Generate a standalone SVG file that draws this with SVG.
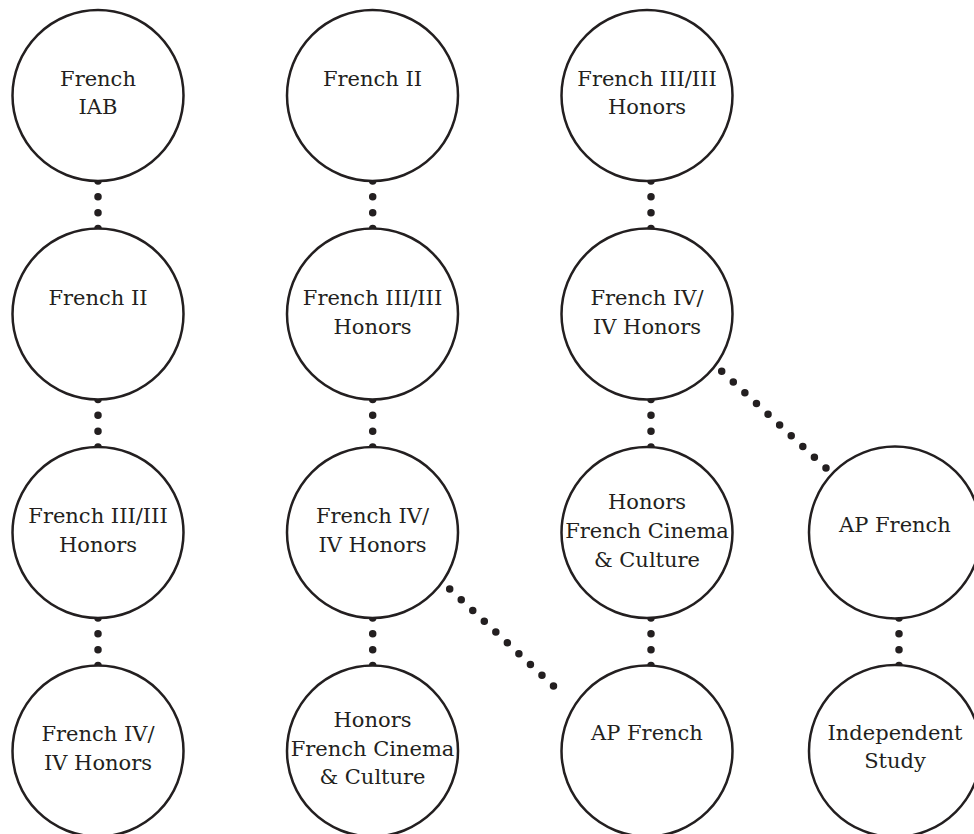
<svg xmlns="http://www.w3.org/2000/svg" width="974" height="834" viewBox="0 0 974 834">
<style>
.n circle{fill:#fff;stroke:#231f20;stroke-width:2.5}
.n text{font-family:"DejaVu Serif","Liberation Serif",serif;font-size:21px;fill:#231f20;text-anchor:middle}
.c line{stroke:#231f20;stroke-width:7.5;stroke-linecap:round;stroke-dasharray:0 15.83}
</style>
<rect width="974" height="834" fill="#fff"/>
<g id="connectors" class="c">
<line x1="98" y1="181" x2="98" y2="228.5"/>
<line x1="98" y1="399.5" x2="98" y2="447"/>
<line x1="98" y1="618" x2="98" y2="665.5"/>
<line x1="372.7" y1="181" x2="372.7" y2="228.5"/>
<line x1="372.7" y1="399.5" x2="372.7" y2="447"/>
<line x1="372.7" y1="618" x2="372.7" y2="665.5"/>
<line x1="651" y1="181" x2="651" y2="228.5"/>
<line x1="651" y1="399.5" x2="651" y2="447"/>
<line x1="651" y1="618" x2="651" y2="665.5"/>
<line x1="899" y1="618" x2="899" y2="665.5"/>
<line x1="449.7" y1="589" x2="565" y2="696.7" style="stroke-dasharray:0 15.78"/>
<line x1="721.7" y1="371.3" x2="826" y2="468" style="stroke-dasharray:0 15.8"/>
</g>
<g id="n-c1r1" class="n"><circle cx="98" cy="95.5" r="85.5"/><text x="98" y="85.5">French</text><text x="98" y="114">IAB</text></g>
<g id="n-c1r2" class="n"><circle cx="98" cy="314" r="85.5"/><text x="98" y="305">French II</text></g>
<g id="n-c1r3" class="n"><circle cx="98" cy="532.5" r="85.5"/><text x="98" y="523">French III/III</text><text x="98" y="551.5">Honors</text></g>
<g id="n-c1r4" class="n"><circle cx="98" cy="751" r="85.5"/><text x="98" y="741">French IV/</text><text x="98" y="769.5">IV Honors</text></g>
<g id="n-c2r1" class="n"><circle cx="372.5" cy="95.5" r="85.5"/><text x="372.5" y="85.5">French II</text></g>
<g id="n-c2r2" class="n"><circle cx="372.5" cy="314" r="85.5"/><text x="372.5" y="305">French III/III</text><text x="372.5" y="333.5">Honors</text></g>
<g id="n-c2r3" class="n"><circle cx="372.5" cy="532.5" r="85.5"/><text x="372.5" y="522.5">French IV/</text><text x="372.5" y="551.5">IV Honors</text></g>
<g id="n-c2r4" class="n"><circle cx="372.5" cy="751" r="85.5"/><text x="372.5" y="727">Honors</text><text x="372.5" y="755.5">French Cinema</text><text x="372.5" y="784">&amp; Culture</text></g>
<g id="n-c3r1" class="n"><circle cx="647" cy="95.5" r="85.5"/><text x="647" y="85.5">French III/III</text><text x="647" y="114">Honors</text></g>
<g id="n-c3r2" class="n"><circle cx="647" cy="314" r="85.5"/><text x="647" y="305">French IV/</text><text x="647" y="333.5">IV Honors</text></g>
<g id="n-c3r3" class="n"><circle cx="647" cy="532.5" r="85.5"/><text x="647" y="509">Honors</text><text x="647" y="538">French Cinema</text><text x="647" y="567">&amp; Culture</text></g>
<g id="n-c3r4" class="n"><circle cx="647" cy="751" r="85.5"/><text x="647" y="740">AP French</text></g>
<g id="n-c4r3" class="n"><circle cx="895" cy="532.5" r="86"/><text x="895" y="532">AP French</text></g>
<g id="n-c4r4" class="n"><circle cx="895" cy="751" r="86"/><text x="895" y="740">Independent</text><text x="895" y="768">Study</text></g>
</svg>
